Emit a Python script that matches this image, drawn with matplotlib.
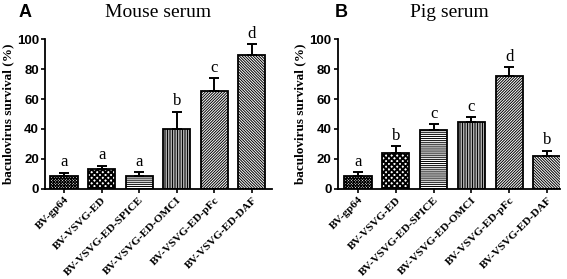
import numpy as np
import matplotlib
matplotlib.use('Agg')
import matplotlib.pyplot as plt
from matplotlib.transforms import ScaledTranslation

constructs = ['BV-gp64', 'BV-VSVG-ED', 'BV-VSVG-ED-SPICE',
              'BV-VSVG-ED-OMCI', 'BV-VSVG-ED-pFc', 'BV-VSVG-ED-DAF']

mouse_mean = [8.7, 13.1, 8.7, 40.0, 65.5, 89.3]
mouse_err = [2.2, 2.4, 2.6, 11.5, 8.3, 7.1]
mouse_letters = ['a', 'a', 'a', 'b', 'c', 'd']

pig_mean = [8.7, 24.0, 39.0, 44.5, 75.4, 22.3]
pig_err = [2.3, 4.4, 4.4, 3.4, 6.0, 3.2]
pig_letters = ['a', 'b', 'c', 'c', 'd', 'b']

yticks = [0, 20, 40, 60, 80, 100]
hatches = ['xxxxxxxxxxxx', 'xxxxxx', '--------', '||||||||||',
           '/' * 12, '\\' * 12]
hatch_lw = [0.7, 1.4, 0.7, 0.7, 0.7, 0.7]

plt.rcParams['hatch.linewidth'] = 0.7

fig = plt.figure(figsize=(5.67, 2.79), dpi=100)

serif = 'Liberation Serif'
sans = 'Liberation Sans'


def panel(ax, means, errs, letters, title, tag, tag_x, xlim):
    x = np.arange(len(means))
    bars = ax.bar(x, means, width=0.72, color='white', edgecolor='black',
                  linewidth=1.3, zorder=2)
    for b, h, lw in zip(bars, hatches, hatch_lw):
        b.set_hatch(h)
        if hasattr(b, 'set_hatch_linewidth'):
            b.set_hatch_linewidth(lw)
    ax.errorbar(x, means, yerr=[np.zeros(len(errs)), errs], fmt='none',
                ecolor='black', elinewidth=1.4, capsize=3.6, capthick=1.4,
                zorder=3)
    for xi, m, e, l in zip(x, means, errs, letters):
        ax.text(xi, m + e + 1.5, l, ha='center', va='bottom',
                family=serif, fontsize=12)
    ax.set_xlim(*xlim)
    ax.set_ylim(0, 100)
    ax.set_yticks(yticks)
    ax.set_xticks(x)
    ax.set_xticklabels(constructs, rotation=45, ha='right', va='top',
                       rotation_mode='anchor', family=serif,
                       fontweight='bold', fontsize=8.2)
    shift = ScaledTranslation(6 / 100, 3 / 100, fig.dpi_scale_trans)
    for lab in ax.get_xticklabels():
        lab.set_transform(lab.get_transform() + shift)
    for lab in ax.get_yticklabels():
        lab.set_family(sans)
        lab.set_fontweight('bold')
        lab.set_fontsize(9.5)
    ax.tick_params(axis='both', direction='out', length=3, width=1.2,
                   pad=1.5)
    for s in ['top', 'right']:
        ax.spines[s].set_visible(False)
    for s in ['left', 'bottom']:
        ax.spines[s].set_linewidth(1.3)
    ax.set_ylabel('baculovirus survival (%)', family=serif,
                  fontweight='bold', fontsize=9.5, labelpad=2)
    ax.set_title(title, family=serif, fontsize=14, pad=16)
    ax.text(tag_x, 1.18, tag, transform=ax.transAxes, family=sans,
            fontweight='bold', fontsize=13, ha='center', va='center')


axA = fig.add_axes([0.0794, 0.3226, 0.400, 0.5376])
panel(axA, mouse_mean, mouse_err, mouse_letters, 'Mouse serum', 'A',
      -0.088, (-0.505, 5.53))

axB = fig.add_axes([0.596, 0.3226, 0.3915, 0.5376])
panel(axB, pig_mean, pig_err, pig_letters, 'Pig serum', 'B',
      0.014, (-0.53, 5.34))

fig.savefig('out.png', dpi=100)
